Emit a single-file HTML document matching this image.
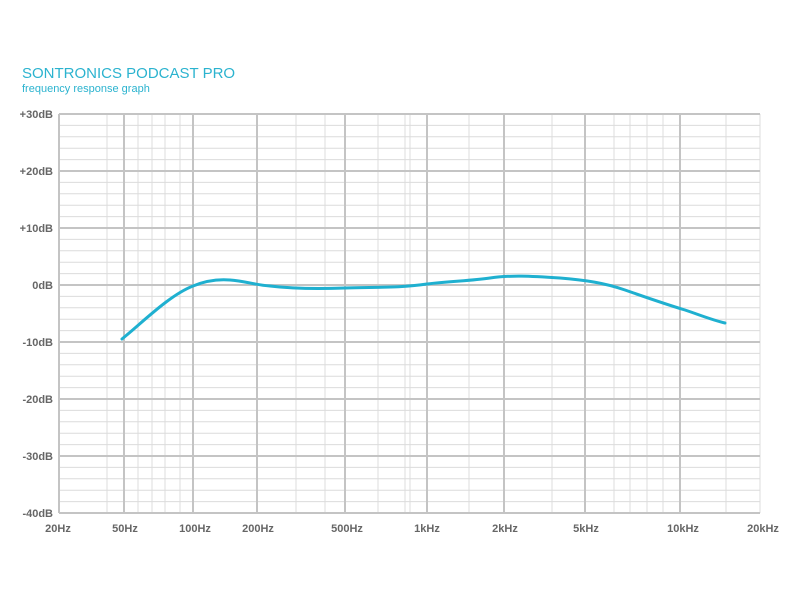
<!DOCTYPE html>
<html><head><style>
body{margin:0;background:#fff;width:800px;height:600px;overflow:hidden}
</style></head><body>
<svg width="800" height="600" xmlns="http://www.w3.org/2000/svg" font-family="Liberation Sans, sans-serif">
<text x="22" y="78" font-size="15" fill="#2bb3cf">SONTRONICS PODCAST PRO</text>
<text x="22" y="92" font-size="11" fill="#2bb3cf">frequency response graph</text>
<g stroke="#dcdcdc" stroke-width="1">
<line x1="59" x2="760" y1="125.4" y2="125.4"/><line x1="59" x2="760" y1="136.8" y2="136.8"/><line x1="59" x2="760" y1="148.2" y2="148.2"/><line x1="59" x2="760" y1="159.6" y2="159.6"/>
<line x1="59" x2="760" y1="182.4" y2="182.4"/><line x1="59" x2="760" y1="193.8" y2="193.8"/><line x1="59" x2="760" y1="205.2" y2="205.2"/><line x1="59" x2="760" y1="216.6" y2="216.6"/>
<line x1="59" x2="760" y1="239.4" y2="239.4"/><line x1="59" x2="760" y1="250.8" y2="250.8"/><line x1="59" x2="760" y1="262.2" y2="262.2"/><line x1="59" x2="760" y1="273.6" y2="273.6"/>
<line x1="59" x2="760" y1="296.4" y2="296.4"/><line x1="59" x2="760" y1="307.8" y2="307.8"/><line x1="59" x2="760" y1="319.2" y2="319.2"/><line x1="59" x2="760" y1="330.6" y2="330.6"/>
<line x1="59" x2="760" y1="353.4" y2="353.4"/><line x1="59" x2="760" y1="364.8" y2="364.8"/><line x1="59" x2="760" y1="376.2" y2="376.2"/><line x1="59" x2="760" y1="387.6" y2="387.6"/>
<line x1="59" x2="760" y1="410.4" y2="410.4"/><line x1="59" x2="760" y1="421.8" y2="421.8"/><line x1="59" x2="760" y1="433.2" y2="433.2"/><line x1="59" x2="760" y1="444.6" y2="444.6"/>
<line x1="59" x2="760" y1="467.4" y2="467.4"/><line x1="59" x2="760" y1="478.8" y2="478.8"/><line x1="59" x2="760" y1="490.2" y2="490.2"/><line x1="59" x2="760" y1="501.6" y2="501.6"/>
<line y1="114" y2="513" x1="107" x2="107"/><line y1="114" y2="513" x1="138" x2="138"/><line y1="114" y2="513" x1="152" x2="152"/><line y1="114" y2="513" x1="165" x2="165"/><line y1="114" y2="513" x1="180" x2="180"/>
<line y1="114" y2="513" x1="296" x2="296"/><line y1="114" y2="513" x1="325" x2="325"/><line y1="114" y2="513" x1="378" x2="378"/><line y1="114" y2="513" x1="405" x2="405"/>
<line y1="114" y2="513" x1="410" x2="410"/><line y1="114" y2="513" x1="469" x2="469"/><line y1="114" y2="513" x1="552" x2="552"/><line y1="114" y2="513" x1="614" x2="614"/><line y1="114" y2="513" x1="630" x2="630"/><line y1="114" y2="513" x1="647" x2="647"/><line y1="114" y2="513" x1="663" x2="663"/><line y1="114" y2="513" x1="726" x2="726"/>
<line y1="114" y2="513" x1="760" x2="760"/>
</g>
<g stroke="#c4c4c4" stroke-width="2">
<line x1="59" x2="760" y1="114" y2="114"/><line x1="59" x2="760" y1="171" y2="171"/><line x1="59" x2="760" y1="228" y2="228"/><line x1="59" x2="760" y1="285" y2="285"/><line x1="59" x2="760" y1="342" y2="342"/><line x1="59" x2="760" y1="399" y2="399"/><line x1="59" x2="760" y1="456" y2="456"/><line x1="59" x2="760" y1="513" y2="513"/>
<line y1="114" y2="513" x1="59" x2="59"/><line y1="114" y2="513" x1="124" x2="124"/><line y1="114" y2="513" x1="193" x2="193"/><line y1="114" y2="513" x1="257" x2="257"/><line y1="114" y2="513" x1="345" x2="345"/><line y1="114" y2="513" x1="427" x2="427"/><line y1="114" y2="513" x1="504" x2="504"/><line y1="114" y2="513" x1="585" x2="585"/><line y1="114" y2="513" x1="680" x2="680"/>
</g>
<g font-size="11" fill="#666" text-anchor="end" font-weight="bold">
<text x="53" y="118">+30dB</text><text x="53" y="175">+20dB</text><text x="53" y="232">+10dB</text><text x="53" y="289">0dB</text><text x="53" y="346">-10dB</text><text x="53" y="403">-20dB</text><text x="53" y="460">-30dB</text><text x="53" y="517">-40dB</text>
</g>
<g font-size="11" fill="#666" text-anchor="middle" font-weight="bold">
<text x="58" y="532">20Hz</text><text x="125" y="532">50Hz</text><text x="195" y="532">100Hz</text><text x="258" y="532">200Hz</text><text x="347" y="532">500Hz</text><text x="427" y="532">1kHz</text><text x="505" y="532">2kHz</text><text x="586" y="532">5kHz</text><text x="683" y="532">10kHz</text><text x="763" y="532">20kHz</text>
</g>
<path d="M122,339 C145,320 170,295 193,286 C205,281 218,279 230,280 C245,281 255,285 270,286 C295,289 320,289 345,288 C375,287 400,288 427,284 C450,281 470,281 490,278 C510,275 530,276 560,278 C585,280 605,283 625,290 C645,297 665,304 685,310 C700,315 712,320 725,323" fill="none" stroke="#1fb0d0" stroke-width="3" stroke-linecap="round"/>
</svg>
</body></html>
